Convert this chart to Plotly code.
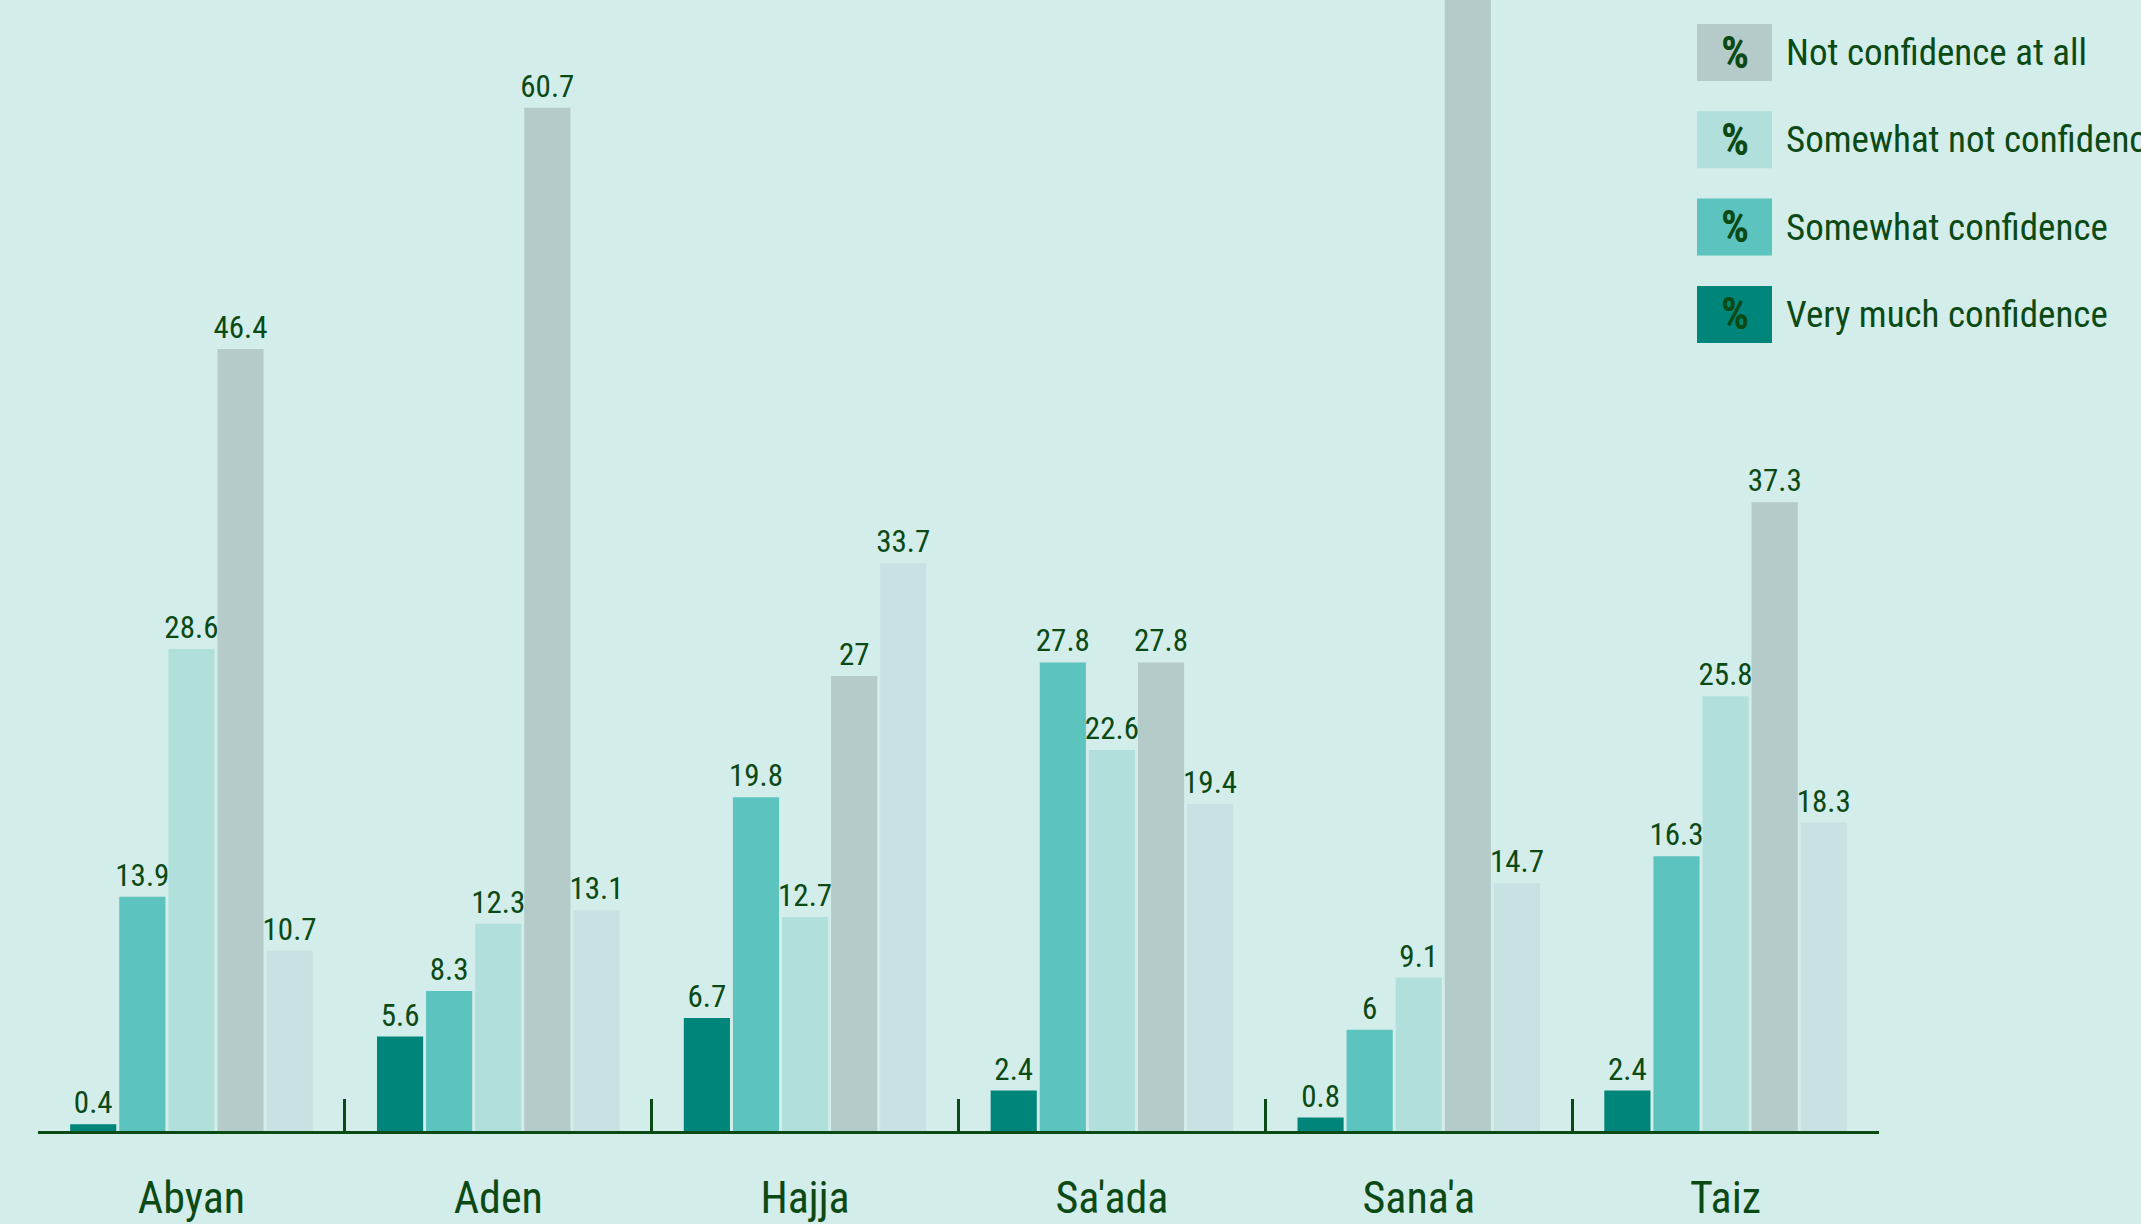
import plotly.graph_objects as go

# ---- data ----
regions = ["Abyan", "Aden", "Hajja", "Sa'ada", "Sana'a", "Taiz"]
very_much = [0.4, 5.6, 6.7, 2.4, 0.8, 2.4]
somewhat = [13.9, 8.3, 19.8, 27.8, 6.0, 16.3]
somewhat_not = [28.6, 12.3, 12.7, 22.6, 9.1, 25.8]
not_at_all = [46.4, 60.7, 27.0, 27.8, 69.4, 37.3]
dont_know = [10.7, 13.1, 33.7, 19.4, 14.7, 18.3]

series_names = ["Very much confidence", "Somewhat confidence",
                "Somewhat not confidence", "Not confidence at all", "Don't know"]
series_values = [very_much, somewhat, somewhat_not, not_at_all, dont_know]
series_colors = ["#00857A", "#5CC3BF", "#B1DFDC", "#B4CBC9", "#C8E2E3"]
legend_order = ["Not confidence at all", "Somewhat not confidence",
                "Somewhat confidence", "Very much confidence"]

# ---- style ----
BG = "#D3EDEA"
DARK = "#0B4A14"
FONT = "Roboto Condensed"
W, H = 2141, 1224
ML, MR, MT, MB = 38, 262, 0, 93
PW, PH = W - ML - MR, H - MT - MB

fig = go.Figure()
for name, vals, col in zip(series_names, series_values, series_colors):
    fig.add_trace(go.Bar(
        x=regions, y=vals, name=name,
        marker=dict(color=col, line=dict(width=0)),
        text=[f"{v:g}" for v in vals],
        textposition="outside",
        constraintext="none",
        textfont=dict(family=FONT, size=31, color=DARK),
        cliponaxis=True,
        showlegend=False,
    ))

# custom legend with "%" swatches
def px_x(X):
    return (X - ML) / PW

def px_y(Y):
    return 1 - (Y - MT) / PH

shapes = []
annotations = []
for i, name in enumerate(legend_order):
    col = series_colors[series_names.index(name)]
    top = 24 + 87.3 * i
    bot = top + 57
    shapes.append(dict(type="rect", xref="paper", yref="paper",
                       x0=px_x(1697), x1=px_x(1772), y0=px_y(bot), y1=px_y(top),
                       fillcolor=col, line=dict(width=0), layer="above"))
    annotations.append(dict(xref="paper", yref="paper", x=px_x(1734.5), y=px_y((top + bot) / 2),
                            text="<b>%</b>", showarrow=False, xanchor="center", yanchor="middle",
                            font=dict(family=FONT, size=44, color=DARK)))
    annotations.append(dict(xref="paper", yref="paper", x=px_x(1784), y=px_y((top + bot) / 2),
                            text=name, showarrow=False, xanchor="left", yanchor="middle",
                            font=dict(family=FONT, size=37, color=DARK)))

fig.update_layout(
    width=W, height=H,
    margin=dict(l=ML, r=MR, t=MT, b=MB, pad=0, autoexpand=False),
    paper_bgcolor=BG, plot_bgcolor=BG,
    barmode="group", bargap=0.2, bargroupgap=0.06,
    shapes=shapes, annotations=annotations,
    font=dict(family=FONT, color=DARK),
)
fig.update_xaxes(
    type="category", showgrid=False, zeroline=False, automargin=False,
    showline=True, linecolor=DARK, linewidth=3,
    ticks="inside", tickson="boundaries", ticklen=32, tickwidth=2.5, tickcolor=DARK,
    tickfont=dict(family=FONT, size=44, color=DARK),
    ticklabelstandoff=26,
)
fig.update_yaxes(range=[0, 67.1], visible=False, showgrid=False, zeroline=False, automargin=False)

fig.write_html("out.html", config={"displayModeBar": False},
               post_script="document.body.style.margin='0';")
